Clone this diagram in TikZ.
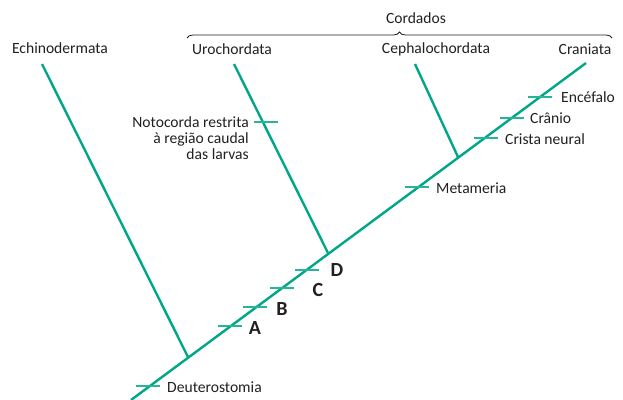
\documentclass[tikz,border=0pt]{standalone}
\usepackage{fontspec}
\setmainfont{Carlito}
\usetikzlibrary{decorations.pathreplacing}
\definecolor{teal}{RGB}{0,166,136}
\definecolor{tealtick}{RGB}{40,180,150}
\definecolor{ink}{RGB}{35,31,32}
\begin{document}
\begin{tikzpicture}[x=1pt,y=-1pt,
  branch/.style={draw=teal,line width=2.4pt},
  tick/.style={draw=tealtick,line width=1.3pt},
  lab/.style={font=\fontsize{15.6}{16}\selectfont,text=ink,inner sep=0pt},
  big/.style={font=\fontsize{20}{22}\selectfont\bfseries,text=ink,inner sep=0pt}]
\useasboundingbox (0,0) rectangle (623,399);
% main axis
\coordinate (root) at (131,400);
\coordinate (top) at (586,63);
\coordinate (jE) at (188,357);
\coordinate (jU) at (328,253);
\coordinate (jC) at (458,157);
\coordinate (tE) at (42,64);
\coordinate (tU) at (234,64);
\coordinate (tC) at (415,64);
\draw[branch] (root) -- (top);
\draw[branch] (jE) -- (tE);
\draw[branch] (jU) -- (tU);
\draw[branch] (jC) -- (tC);
% taxa labels
\node[lab] (echi) at (60,48) {Echinodermata};
\node[lab] (uro) at (232,49) {Urochordata};
\node[lab] (cephalo) at (436,49) {Cephalochordata};
\node[lab] (crani) at (585,49) {Craniata};
\node[lab] (cord) at (416,18) {Cordados};
\coordinate (bL) at (187,38);
\coordinate (bR) at (612,38);
\draw[ink,line width=0.8pt,decorate,decoration={brace,amplitude=6pt}] (bL) -- (bR);
% ticks on main axis
\foreach \n/\x/\y in {deu/148/386,a/230/326,b/255/307,c/282/288,d/307/270,met/417/187,cri/486/138,cra/512/118,enc/540/97}{
  \coordinate (\n L) at (\x-12,\y);
  \coordinate (\n R) at (\x+12,\y);
  \draw[tick] (\n L) -- (\n R);
}
\coordinate (notL) at (254,122);
\coordinate (notR) at (278,122);
\draw[tick] (notL) -- (notR);
% tick labels
\node[lab,anchor=west] (tdeu) at (167,387) {Deuterostomia};
\node[lab,anchor=west] (tmet) at (436,188) {Metameria};
\node[lab,anchor=west] (tcri) at (505,139) {Crista neural};
\node[lab,anchor=west] (tcra) at (530,118) {Crânio};
\node[lab,anchor=west] (tenc) at (561,97) {Encéfalo};
\node[lab,anchor=base east,align=right] (tnot) at (249,159) {Notocorda restrita\\à região caudal\\das larvas};
\node[big] (A) at (255,328) {A};
\node[big] (B) at (282,309) {B};
\node[big] (C) at (318,290) {C};
\node[big] (D) at (337,270) {D};
\end{tikzpicture}
\end{document}
